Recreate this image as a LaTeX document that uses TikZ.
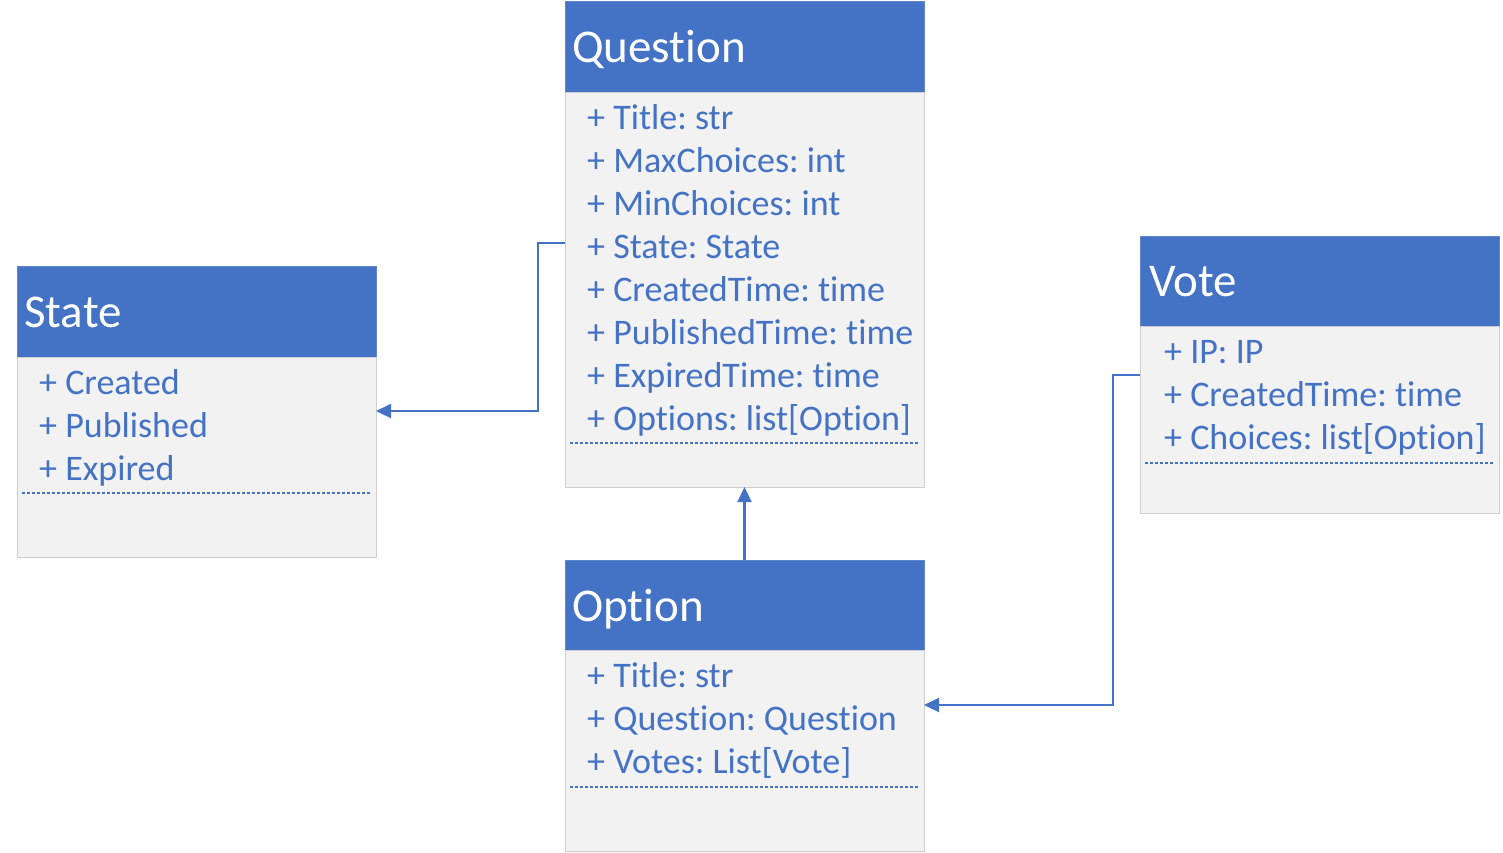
\documentclass[tikz,border=0pt]{standalone}
\usepackage{fontspec}
\setmainfont{Carlito}[Ligatures={NoCommon,NoRare,NoContextual}]
\usetikzlibrary{arrows.meta}
\definecolor{hdrblue}{HTML}{4472C4}
\definecolor{bodygray}{HTML}{F2F2F2}
\definecolor{edgegray}{HTML}{CFCFCF}
\definecolor{txtblue}{HTML}{4472C4}
\frenchspacing
\begin{document}
\begin{tikzpicture}[x=1pt,y=-1pt,
  header/.style={fill=hdrblue, draw=hdrblue!85!white, line width=0.8pt, anchor=north west, minimum width=359pt, inner sep=0pt, outer sep=0pt},
  body/.style={fill=bodygray, draw=edgegray, line width=1pt, anchor=north west, minimum width=359pt, inner sep=0pt, outer sep=0pt},
  title/.style={anchor=base west, text=white, font=\fontsize{47}{56}\selectfont, inner sep=0pt},
  attr/.style={anchor=base west, text=txtblue, font=\fontsize{36}{43}\selectfont, inner sep=0pt},
  sepline/.style={draw=txtblue, line width=1.3pt, dash pattern=on 3pt off 2pt},
  link/.style={draw=hdrblue, line width=2.2pt, -{Triangle[length=15pt,width=14pt]}}]
\useasboundingbox (0,0) rectangle (1503,852);

% Question
\node[header, minimum height=91pt] (qh) at (565,1) {};
\node[body, minimum height=395pt] (qb) at (565,92) {};
\node[title] (qt) at (572,62) {Question};
\foreach [count=\i] \t in {{+ Title: str},{+ MaxChoices: int},{+ MinChoices: int},{+ State: State},{+ CreatedTime: time},{+ PublishedTime: time},{+ ExpiredTime: time},{+ Options: list[Option]}}
  \node[attr] (qa\i) at (587,{86+43.05*\i}) {\t};
\draw[sepline] (570,443) -- (919,443);

% State
\node[header, minimum height=91pt] (sh) at (17,266) {};
\node[body, minimum height=200pt] (sb) at (17,357) {};
\node[title] (st) at (24,327) {State};
\foreach [count=\i] \t in {{+ Created},{+ Published},{+ Expired}}
  \node[attr] (sa\i) at (39,{351+43*\i}) {\t};
\draw[sepline] (22,493) -- (371,493);

% Vote
\node[header, minimum height=90pt] (vh) at (1140,236) {};
\node[body, minimum height=187pt] (vb) at (1140,326) {};
\node[title] (vt) at (1149,296) {Vote};
\foreach [count=\i] \t in {{+ IP: IP},{+ CreatedTime: time},{+ Choices: list[Option]}}
  \node[attr] (va\i) at (1164,{320+43*\i}) {\t};
\draw[sepline] (1145,463) -- (1494,463);

% Option
\node[header, minimum height=90pt] (oh) at (565,560) {};
\node[body, minimum height=201pt] (ob) at (565,650) {};
\node[title] (ot) at (572,621) {Option};
\foreach [count=\i] \t in {{+ Title: str},{+ Question: Question},{+ Votes: List[Vote]}}
  \node[attr] (oa\i) at (587,{644+43*\i}) {\t};
\draw[sepline] (570,787) -- (919,787);

% connectors
\draw[link] ([yshift=-151pt]qb.north west) -- ++(-27,0) |- ([yshift=-54pt]sb.north east);
\draw[link] (oh.north) -- (qb.south);
\draw[link] ([yshift=-49pt]vb.north west) -- ++(-27,0) |- ([yshift=-55pt]ob.north east);
\end{tikzpicture}
\end{document}
